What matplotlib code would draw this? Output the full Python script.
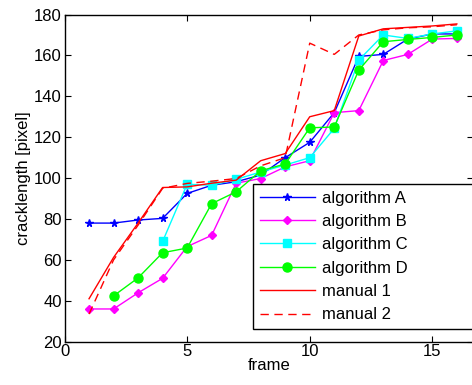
import numpy as np
import matplotlib
matplotlib.use("Agg")
import matplotlib.pyplot as plt

plt.rcParams['font.family'] = ['Liberation Sans', 'DejaVu Sans']

# crack length per frame
frames = np.arange(1, 17)

alg_a = [78, 78, 79.5, 80.3, 92.5, 96.5, 98.2, 101.5, 110, 117.5, 132, 159.5, 160.5, 168, 170.5, 170.5]
alg_b = [36, 36, 43.9, 51, 66.5, 72, 97.5, 99.8, 105.5, 108.5, 132, 133, 157.5, 160.5, 168, 168.3]
alg_c_frames = np.arange(4, 17)
alg_c = [69, 97, 96.5, 99.4, 103, 106.4, 110, 124.3, 157.7, 170, 168.3, 170.5, 172]
alg_d_frames = np.arange(2, 17)
alg_d = [42.4, 51.2, 63.5, 65.8, 87.5, 93.3, 103.6, 106.9, 124.6, 125, 152.8, 166.7, 167.8, 168.8, 170]
manual1 = [41, 61.2, 78, 95.4, 95.7, 97.5, 99, 108.5, 112, 130, 133, 169.5, 173, 173.7, 174.4, 175.4]
manual2 = [33.5, 60, 77, 95, 97.4, 98.5, 99.8, 106, 110, 166, 160.5, 170, 172.5, 173.5, 174, 175]

fig = plt.figure(figsize=(4.72, 3.85), dpi=100)
ax = fig.add_axes([0.1367, 0.1125, 0.865, 0.8498])

ax.plot(frames, alg_a, color='#0000ff', marker='*', markersize=5.5, linewidth=1, label='algorithm A')
ax.plot(frames, alg_b, color='#ff00ff', marker='D', markersize=4.5, linewidth=1, label='algorithm B')
ax.plot(alg_c_frames, alg_c, color='#00ffff', marker='s', markersize=6, linewidth=1, label='algorithm C')
ax.plot(alg_d_frames, alg_d, color='#00ff00', marker='o', markersize=6.5, linewidth=1, label='algorithm D')
ax.plot(frames, manual1, color='#ff0000', linewidth=1, label='manual 1')
ax.plot(frames, manual2, color='#ff0000', linestyle=(0, (6, 4)), linewidth=1, label='manual 2')

ax.set_xlim(0, 16.65)
ax.set_ylim(20, 180)
ax.set_xticks([0, 5, 10, 15])
ax.set_yticks(np.arange(20, 181, 20))
ax.tick_params(direction='in', top=True, right=True, labelsize=12, length=4, pad=2)
for s in ax.spines.values():
    s.set_linewidth(1)
ax.set_xlabel('frame', fontsize=12, labelpad=-1)
ax.set_ylabel('cracklength [pixel]', fontsize=12, labelpad=2)

# legend box runs off the right edge of the figure, as in the reference
x0, y1 = 253 / 472, 1 - 184 / 385
leg = ax.legend(loc='upper left', bbox_to_anchor=(x0, y1 - 0.4, 240 / 472, 0.4),
                bbox_transform=fig.transFigure, mode='expand', fontsize=12,
                fancybox=False, framealpha=1, edgecolor='black', handlelength=3.3,
                handletextpad=0.45, labelspacing=0.5, borderpad=0.4,
                borderaxespad=0)
leg.get_frame().set_linewidth(1)

fig.savefig('out.png', dpi=100)
